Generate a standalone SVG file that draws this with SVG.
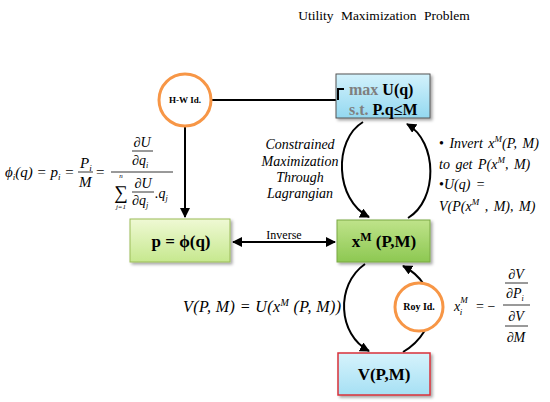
<svg xmlns="http://www.w3.org/2000/svg" width="550" height="402" viewBox="0 0 550 402">
<defs>
<style>
text{font-family:'Liberation Serif','Times New Roman',Tinos,'DejaVu Serif',serif;fill:#000}
.i{font-style:italic}
.b{font-weight:bold}
.bx{stroke-width:1}
.c{fill:none;stroke:#000;stroke-width:2}
.ring{fill:#fff;stroke:#f79646;stroke-width:3}
.bar{stroke:#000;stroke-width:0.8}
</style>
<linearGradient id="gBlue" x1="0" y1="0" x2="0" y2="1"><stop offset="0" stop-color="#d3f2fc"/><stop offset="1" stop-color="#93d8f0"/></linearGradient>
<linearGradient id="gBlue2" x1="0" y1="0" x2="0" y2="1"><stop offset="0" stop-color="#d6f3fc"/><stop offset="1" stop-color="#a6e0f4"/></linearGradient>
<linearGradient id="gLime" x1="0" y1="0" x2="0" y2="1"><stop offset="0" stop-color="#eff9d4"/><stop offset="1" stop-color="#c6e88e"/></linearGradient>
<linearGradient id="gGreen" x1="0" y1="0" x2="0" y2="1"><stop offset="0" stop-color="#bfe38a"/><stop offset="1" stop-color="#8dc852"/></linearGradient>
<filter id="sh" x="-10%" y="-10%" width="125%" height="135%"><feDropShadow dx="2" dy="2" stdDeviation="1.5" flood-color="#000" flood-opacity="0.35"/></filter>
<marker id="ah" viewBox="0 0 10 10" refX="9" refY="5" markerWidth="5" markerHeight="5" orient="auto-start-reverse"><path d="M0,0 L10,5 L0,10 z" fill="#000"/></marker>
</defs>
<rect width="550" height="402" fill="#fff"/>

<g id="title">
<text x="384" y="20" font-size="13.5" text-anchor="middle" word-spacing="4">Utility Maximization Problem</text>
<line x1="285" y1="29" x2="481" y2="29" stroke="#000" stroke-width="2" filter="url(#sh)"/>
</g>

<g id="connectors">
<path class="c" d="M212,100 H338 V89 H344"/>
<line class="c" x1="185" y1="127" x2="185" y2="217" marker-end="url(#ah)"/>
<line class="c" x1="233" y1="242" x2="335" y2="242" marker-start="url(#ah)" marker-end="url(#ah)"/>
<path class="c" d="M363,122 C333,140 335,200 369,217" marker-end="url(#ah)"/>
<path class="c" d="M408,218 C438,200 438,142 407,124" marker-end="url(#ah)"/>
<path class="c" d="M365,264 C335,285 338,335 369,351" marker-end="url(#ah)"/>
<path class="c" d="M403,352 C440,330 440,285 403,266" marker-end="url(#ah)"/>
<text x="284" y="239" font-size="12" text-anchor="middle">Inverse</text>
</g>

<g id="node-umax">
<rect x="336" y="74" width="94" height="44" fill="url(#gBlue)" stroke="#555" class="bx" filter="url(#sh)"/>
<path d="M338,100 V89 H344" fill="none" stroke="#000" stroke-width="2"/>
<text class="b" x="349" y="95" font-size="16"><tspan fill="#7f7f7f">max</tspan> U(q)</text>
<text class="b" x="349" y="115" font-size="16"><tspan fill="#7f7f7f">s.t.</tspan> P.q≤M</text>
</g>

<g id="node-hw">
<circle class="ring" cx="185" cy="100" r="26"/>
<text class="b" x="185" y="103" font-size="9" text-anchor="middle">H-W Id.</text>
</g>

<g id="node-p">
<rect x="130" y="219" width="100" height="43" fill="url(#gLime)" stroke="#9bbb59" class="bx" filter="url(#sh)"/>
<text class="b" x="181" y="247" font-size="17" text-anchor="middle">p = ϕ(q)</text>
</g>

<g id="node-xm">
<rect x="337" y="220" width="93" height="42" fill="url(#gGreen)" stroke="#7aa844" class="bx" filter="url(#sh)"/>
<text class="b" x="384" y="247" font-size="17" text-anchor="middle">x<tspan font-size="12" dy="-6">M</tspan><tspan dy="6"> (P,M)</tspan></text>
</g>

<g id="node-v">
<rect x="338" y="353" width="92" height="42" fill="url(#gBlue2)" stroke="#d9303a" stroke-width="1.5" filter="url(#sh)"/>
<text class="b" x="384" y="380" font-size="17" text-anchor="middle">V(P,M)</text>
</g>

<g id="node-roy">
<circle class="ring" cx="419" cy="307" r="24"/>
<text class="b" x="419" y="310" font-size="10" text-anchor="middle">Roy Id.</text>
</g>

<g id="label-lagrange" font-size="14" text-anchor="middle">
<text class="i" x="300" y="149">Constrained</text>
<text class="i" x="300" y="166">Maximization</text>
<text class="i" x="300" y="182">Through</text>
<text class="i" x="300" y="198">Lagrangian</text>
</g>

<g id="label-invert" font-size="14" word-spacing="2">
<text class="i" x="439" y="148"><tspan font-style="normal">•</tspan> Invert x<tspan font-size="9" dy="-6">M</tspan><tspan dy="6">(P, M)</tspan></text>
<text class="i" x="439" y="169">to get P(x<tspan font-size="9" dy="-6">M</tspan><tspan dy="6">, M)</tspan></text>
<text class="i" x="439" y="189"><tspan font-style="normal">•</tspan>U(q) =</text>
<text class="i" x="439" y="211">V(P(x<tspan font-size="9" dy="-6">M</tspan><tspan dy="6"> , M), M)</tspan></text>
</g>

<g id="formula-phi" font-size="15">
<text class="i" x="5" y="177">ϕ<tspan font-size="9" dy="3">i</tspan><tspan dy="-3">(q) = p</tspan><tspan font-size="9" dy="3">i</tspan><tspan dy="-3"> =</tspan></text>
<text class="i" x="80" y="168">P<tspan font-size="9" dy="3">i</tspan></text>
<line class="bar" x1="78" y1="172" x2="93" y2="172"/>
<text class="i" x="79" y="187">M</text>
<text x="96" y="177">=</text>
<text class="i" x="142" y="147" font-size="14" text-anchor="middle">∂U</text>
<line class="bar" x1="132" y1="151" x2="153" y2="151"/>
<text class="i" x="132" y="165" font-size="14">∂q<tspan font-size="8" dy="3">i</tspan></text>
<line class="bar" x1="111" y1="172" x2="173" y2="172"/>
<text class="i" x="121" y="178" font-size="7" text-anchor="middle">n</text>
<text x="121" y="199" font-size="19" text-anchor="middle">∑</text>
<text class="i" x="121" y="209" font-size="7" text-anchor="middle">j=1</text>
<text class="i" x="143" y="188" font-size="14" text-anchor="middle">∂U</text>
<line class="bar" x1="132" y1="192" x2="154" y2="192"/>
<text class="i" x="132" y="205" font-size="14">∂q<tspan font-size="8" dy="3">j</tspan></text>
<text class="i" x="155" y="198" font-size="14">.q<tspan font-size="8" dy="3">j</tspan></text>
</g>

<g id="formula-v" font-size="16" letter-spacing="0.4">
<text class="i" x="183" y="312">V(P, M) = U(x<tspan font-size="10" dy="-6">M</tspan><tspan dy="6"> (P, M))</tspan></text>
</g>

<g id="formula-roy" font-size="14">
<text class="i" x="454" y="311">x<tspan font-size="9" dy="-8">M</tspan><tspan font-size="9" dx="-8" dy="12">i</tspan></text>
<text x="476" y="311">= −</text>
<text class="i" x="516" y="279" text-anchor="middle">∂V</text>
<line class="bar" x1="505" y1="283" x2="528" y2="283"/>
<text class="i" x="506" y="298">∂P<tspan font-size="8" dy="3">i</tspan></text>
<line class="bar" x1="503" y1="305" x2="530" y2="305"/>
<text class="i" x="516" y="321" text-anchor="middle">∂V</text>
<line class="bar" x1="505" y1="326" x2="528" y2="326"/>
<text class="i" x="516" y="342" text-anchor="middle">∂M</text>
</g>
</svg>
